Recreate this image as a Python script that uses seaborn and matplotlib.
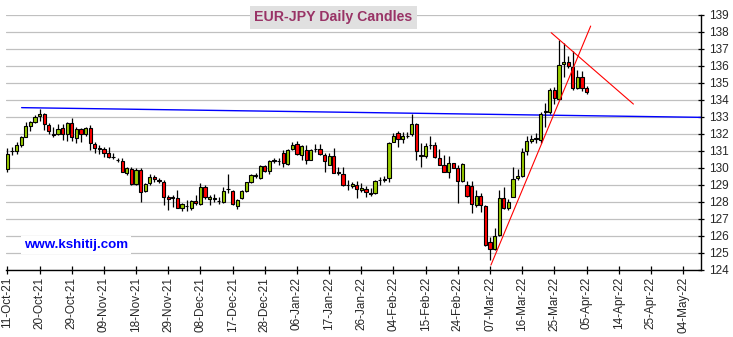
import numpy as np
import pandas as pd
import matplotlib
matplotlib.use("Agg")
import matplotlib.pyplot as plt
import seaborn as sns

# Daily EUR-JPY candles, one per trading day starting 11-Oct-2021
first_day = "2021-10-11"
opens = [
    129.95, 130.98, 131.02, 131.35, 131.84, 132.49, 132.72, 133.04, 133.16, 132.51,
    131.99, 132.00, 132.33, 132.00, 132.63, 131.75, 132.27, 131.98, 132.33, 131.39,
    131.16, 131.10, 130.86, 130.66, 130.48, 130.41, 129.69, 129.92, 129.08, 129.88,
    128.67, 129.10, 129.45, 129.28, 129.20, 128.29, 128.28, 128.25, 127.67, 127.77,
    127.63, 128.06, 127.88, 128.86, 128.20, 128.18, 128.07, 127.98, 128.74, 128.67,
    127.78, 128.22, 128.65, 129.20, 129.54, 129.39, 130.10, 129.84, 130.43, 130.42,
    130.86, 130.22, 131.10, 131.39, 130.76, 131.06, 130.47, 131.10, 131.12, 130.76,
    130.20, 130.70, 129.75, 129.63, 129.02, 128.94, 129.00, 128.69, 128.76, 128.52,
    128.50, 129.28, 129.32, 129.39, 131.55, 132.04, 131.69, 131.87, 131.98, 132.59,
    130.75, 130.71, 131.37, 131.35, 130.57, 130.18, 129.78, 130.27, 129.98, 129.25,
    129.00, 128.94, 127.82, 128.35, 127.76, 125.67, 125.22, 126.06, 128.22, 127.63,
    128.27, 129.39, 129.55, 131.02, 131.57, 131.72, 131.65, 133.30, 133.31, 134.59,
    134.04, 136.10, 136.22, 135.92, 134.69, 135.33, 134.69,
]
highs = [
    131.20, 131.25, 131.55, 131.90, 132.72, 132.76, 133.12, 133.47, 133.22, 132.66,
    132.40, 132.59, 132.57, 132.69, 132.92, 132.40, 132.37, 132.40, 132.53, 131.55,
    131.33, 131.25, 131.25, 130.86, 130.57, 130.57, 130.04, 130.04, 129.98, 129.98,
    129.10, 129.63, 129.59, 129.39, 129.29, 128.41, 128.41, 128.70, 127.92, 128.12,
    128.12, 128.41, 129.10, 128.98, 128.41, 128.45, 128.30, 128.86, 129.63, 128.70,
    128.20, 128.70, 129.20, 129.63, 129.70, 130.18, 130.18, 130.45, 130.57, 130.61,
    131.06, 131.12, 131.55, 131.59, 131.35, 131.35, 131.10, 131.39, 131.39, 130.86,
    130.86, 131.16, 130.08, 130.08, 129.29, 129.20, 129.24, 129.10, 128.96, 128.80,
    129.29, 129.49, 129.53, 131.51, 132.04, 132.18, 132.14, 132.14, 133.20, 132.63,
    131.45, 131.45, 131.88, 131.55, 131.10, 130.76, 130.71, 130.31, 130.18, 130.31,
    129.25, 129.25, 128.71, 128.51, 127.82, 125.96, 126.45, 128.71, 128.86, 128.16,
    130.04, 129.92, 131.16, 131.88, 131.94, 132.08, 133.31, 133.84, 134.69, 134.75,
    137.50, 137.35, 136.60, 136.90, 135.76, 135.72, 134.84,
]
lows = [
    129.75, 130.76, 130.82, 131.25, 131.80, 132.20, 132.63, 132.76, 132.24, 131.98,
    131.84, 131.94, 131.65, 131.60, 131.60, 131.45, 131.51, 131.90, 131.06, 130.86,
    130.82, 130.66, 130.60, 130.50, 130.37, 129.74, 129.60, 129.00, 129.00, 128.02,
    128.60, 129.00, 129.20, 129.10, 127.80, 127.53, 127.73, 127.63, 127.47, 127.45,
    127.53, 127.82, 127.82, 128.20, 127.82, 127.98, 127.90, 127.96, 128.50, 127.82,
    127.60, 128.15, 128.60, 129.10, 129.40, 129.35, 129.78, 129.63, 130.27, 130.18,
    130.04, 130.18, 131.06, 130.76, 130.47, 130.22, 130.45, 130.94, 130.76, 129.78,
    130.16, 129.69, 129.60, 128.96, 128.71, 128.84, 128.25, 128.59, 128.31, 128.37,
    128.45, 129.00, 129.20, 129.20, 131.51, 131.25, 131.45, 131.76, 131.90, 130.47,
    130.08, 130.57, 131.10, 130.57, 130.16, 129.78, 129.39, 129.98, 127.96, 129.20,
    128.31, 127.35, 127.73, 127.43, 125.41, 124.59, 125.18, 125.98, 127.57, 127.53,
    128.27, 129.29, 129.49, 130.76, 131.45, 131.45, 131.45, 132.39, 133.20, 133.76,
    134.00, 135.37, 135.86, 134.60, 134.63, 134.50, 134.35,
]
closes = [
    130.85, 131.02, 131.35, 131.80, 132.49, 132.69, 133.00, 133.16, 132.57, 132.20,
    131.97, 132.29, 132.02, 132.63, 131.84, 132.27, 131.98, 132.33, 131.45, 131.19,
    131.10, 130.86, 130.66, 130.62, 130.45, 129.78, 129.98, 129.04, 129.88, 128.60,
    129.04, 129.45, 129.33, 129.26, 128.31, 128.18, 128.25, 127.67, 127.88, 127.75,
    128.06, 127.94, 128.86, 128.31, 128.30, 128.25, 128.05, 128.62, 128.77, 127.88,
    128.12, 128.65, 129.16, 129.59, 129.57, 130.10, 129.84, 130.41, 130.47, 130.40,
    130.27, 131.04, 131.35, 130.80, 131.30, 130.47, 131.06, 131.14, 130.80, 130.40,
    130.70, 129.73, 129.70, 129.00, 128.98, 129.04, 128.76, 128.84, 128.57, 128.49,
    129.24, 129.31, 129.34, 131.45, 131.88, 131.69, 131.88, 131.89, 132.59, 131.02,
    130.71, 131.29, 131.33, 130.63, 130.20, 129.78, 130.27, 129.98, 129.25, 130.24,
    128.35, 127.88, 128.35, 127.82, 125.47, 125.22, 126.00, 128.22, 127.63, 128.02,
    129.33, 129.53, 130.96, 131.59, 131.71, 131.78, 133.20, 133.33, 134.59, 134.10,
    136.06, 136.22, 136.00, 134.69, 135.33, 134.69, 134.49,
]

# Hand-drawn trend lines (trading-day number, price)
long_trend_day = [3.1, 150.9]
long_trend_px = [133.55, 132.98]
rally_trend_day = [105.2, 126.9]
rally_trend_px = [124.29, 138.35]
top_trend_day = [118.3, 136.2]
top_trend_px = [137.96, 133.76]

# Axis labelling
tick_every = 7
last_tick_date = "2022-05-04"
price_ticks = list(range(124, 140))

sns.set_theme(style="white")
plt.rcParams["font.family"] = ["Liberation Sans", "DejaVu Sans"]

dates = pd.bdate_range(first_day, periods=len(opens))
df = pd.DataFrame({"date": dates, "open": opens, "high": highs,
                   "low": lows, "close": closes})
df["day"] = np.arange(len(df))
df["up"] = df["close"] >= df["open"]

fig = plt.figure(figsize=(7.33, 3.37), dpi=100)
ax = fig.add_axes([6 / 733, 67 / 337, 695 / 733, 255 / 337])

# wicks
ax.vlines(df["day"], df["low"], df["high"], color="black", lw=0.9, zorder=2)
# bodies
body_bottom = np.minimum(df["open"], df["close"])
body_height = np.maximum((df["close"] - df["open"]).abs(), 0.01)
body_colors = np.where(df["up"], "#99cc00", "#ff0000")
ax.bar(df["day"], body_height, bottom=body_bottom, width=0.7,
       color=body_colors, edgecolor="black", linewidth=0.8, zorder=3)

# trend lines
sns.lineplot(x=long_trend_day, y=long_trend_px, ax=ax, color="#0000ff",
             lw=1.0, zorder=1)
sns.lineplot(x=rally_trend_day, y=rally_trend_px, ax=ax, color="#ff0000",
             lw=0.8, zorder=4)
sns.lineplot(x=top_trend_day, y=top_trend_px, ax=ax, color="#ff0000",
             lw=0.8, zorder=4)

ax.set_xlim(-0.3, 150.9)
ax.set_ylim(124, 139)

tick_dates = pd.bdate_range(first_day, last_tick_date)[::tick_every]
tick_pos = np.arange(len(tick_dates)) * tick_every
ax.set_xticks(tick_pos)
ax.set_xticklabels([d.strftime("%d-%b-%y") for d in tick_dates],
                   rotation=90, fontsize=8.5)
ax.yaxis.tick_right()
ax.set_yticks(price_ticks)
ax.set_yticklabels([str(p) for p in price_ticks], fontsize=8.5)

ax.grid(axis="y", color="#c0c0c0", lw=0.9)
ax.grid(axis="x", visible=False)
ax.set_axisbelow(True)
for side in ("left", "top"):
    ax.spines[side].set_visible(False)
for side in ("right", "bottom"):
    ax.spines[side].set_color("black")
    ax.spines[side].set_linewidth(1.0)
ax.tick_params(axis="y", direction="inout", length=5, width=0.9,
               color="black", pad=3, right=True, left=False)
ax.tick_params(axis="x", direction="inout", length=6, width=0.9,
               color="black", pad=2, bottom=True)
ax.set_xlabel("")
ax.set_ylabel("")

fig.text(333.5 / 733, 1 - 17.5 / 337, "EUR-JPY Daily Candles",
         ha="center", va="center", fontsize=10.2, fontweight="bold",
         color="#993366",
         bbox=dict(boxstyle="square,pad=0.3", fc="#e0e0e0", ec="none"))
fig.text(76 / 733, 1 - 245 / 337, "www.kshitij.com",
         ha="center", va="center", fontsize=9.6, fontweight="bold",
         color="#0000ff",
         bbox=dict(boxstyle="square,pad=0.2", fc="white", ec="none"))

fig.savefig("out.png", dpi=100)
